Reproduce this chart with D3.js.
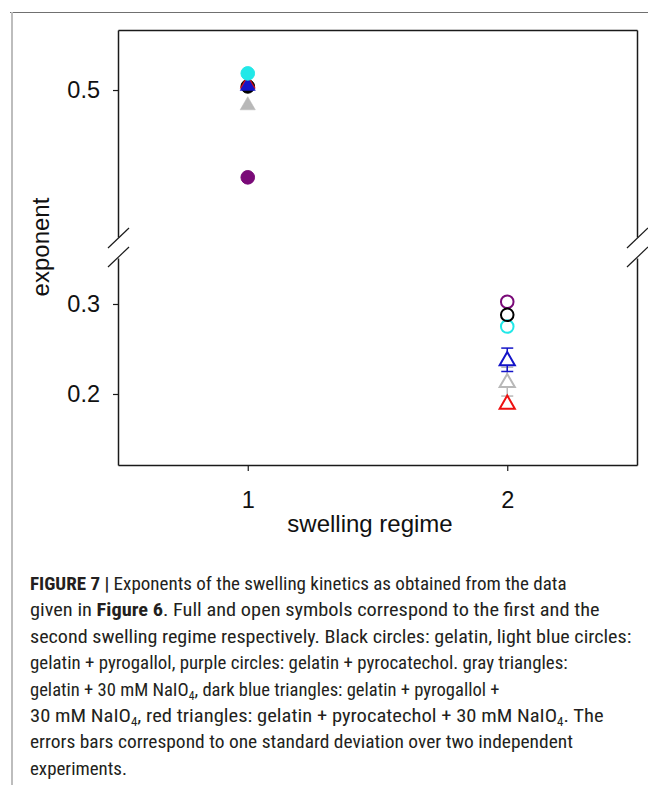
<!DOCTYPE html>
<html>
<head>
<meta charset="utf-8">
<script src="https://cdn.jsdelivr.net/npm/d3@7"></script>
<style>
  html, body { margin: 0; padding: 0; background: #fff; }
  svg { display: block; }
</style>
</head>
<body>
<svg id="chart" width="648" height="785"></svg>
<script>
// ---------------- data ----------------
const regimes = [1, 2];
const regimeTicks = ["1", "2"];
const seriesNames = [
  "gelatin",
  "gelatin + pyrogallol",
  "gelatin + pyrocatechol",
  "gelatin + 30 mM NaIO4",
  "gelatin + pyrogallol + 30 mM NaIO4",
  "gelatin + pyrocatechol + 30 mM NaIO4"
];
const seriesShapes = ["circle", "circle", "circle", "triangle", "triangle", "triangle"];
const seriesColors = ["#000000", "#22e8e8", "#7a0a78", "#b8b8b8", "#1414c8", "#ee1010"];
const regime1Values = [0.504, 0.5185, 0.403, 0.484, 0.5055, 0.508];
const regime1Errors = [0, 0, 0, 0, 0, 0];
const regime2Values = [0.288, 0.275, 0.3025, 0.2137, 0.238, 0.1897];
const regime2Errors = [0, 0, 0, 0.016, 0.013, 0];
const upperTicks = [0.5];
const lowerTicks = [0.2, 0.3];
const upperDomain = [0.3367, 0.5667];
const lowerDomain = [0.1211, 0.3511];
// draw order (later = on top)
const order1 = [0, 5, 4, 3, 2, 1];
const order2 = [3, 4, 5, 2, 1, 0];

const captionLines = [
  [["b", "FIGURE 7 | "], ["n", "Exponents of the swelling kinetics as obtained from the data"]],
  [["n", "given in "], ["b", "Figure 6"], ["n", ". Full and open symbols correspond to the first and the"]],
  [["n", "second swelling regime respectively. Black circles: gelatin, light blue circles:"]],
  [["n", "gelatin + pyrogallol, purple circles: gelatin + pyrocatechol. gray triangles:"]],
  [["n", "gelatin + 30 mM NaIO"], ["s", "4"], ["n", ", dark blue triangles: gelatin + pyrogallol +"]],
  [["n", "30 mM NaIO"], ["s", "4"], ["n", ", red triangles: gelatin + pyrocatechol + 30 mM NaIO"], ["s", "4"], ["n", ". The"]],
  [["n", "errors bars correspond to one standard deviation over two independent"]],
  [["n", "experiments."]]
];
const captionWidths = [537, 570, 602, 538, 470, 574, 543, 97];

// ---------------- layout ----------------
const svg = d3.select("#chart");
const box = { left: 118, right: 637, top: 30, bottom: 465 };
const gapTop = 237, gapBottom = 258;
const axisColor = "#1a1a1a";
const font = "'Liberation Sans', Arial, Helvetica, sans-serif";

// outer frame
svg.append("line").attr("x1", 10).attr("x2", 648).attr("y1", 12.5).attr("y2", 12.5)
  .attr("stroke", "#707070").attr("stroke-width", 1);
svg.append("line").attr("x1", 12).attr("x2", 12).attr("y1", 12).attr("y2", 785)
  .attr("stroke", "#bdbdbd").attr("stroke-width", 2);

// scales
const x = d3.scaleLinear().domain([0.5, 2.5]).range([box.left, box.right]);
const yUpper = d3.scaleLinear().domain(upperDomain).range([gapTop, box.top]);
const yLower = d3.scaleLinear().domain(lowerDomain).range([box.bottom, gapBottom]);
const yOf = (regime, v) => regime === 1 ? yUpper(v) : yLower(v);

// axes
function styleAxis(g) {
  g.selectAll("path.domain").attr("stroke", axisColor).attr("stroke-width", 1.5);
  g.selectAll(".tick line").attr("stroke", axisColor).attr("stroke-width", 1.2);
  g.selectAll(".tick text").attr("font-family", font).attr("font-size", 23.5).attr("fill", "#111");
}
const gUL = svg.append("g").attr("transform", `translate(${box.left},0)`)
  .call(d3.axisLeft(yUpper).tickValues(upperTicks).tickFormat(d3.format(".1f")).tickSize(5).tickSizeOuter(0).tickPadding(13));
styleAxis(gUL);
const gLL = svg.append("g").attr("transform", `translate(${box.left},0)`)
  .call(d3.axisLeft(yLower).tickValues(lowerTicks).tickFormat(d3.format(".1f")).tickSize(5).tickSizeOuter(0).tickPadding(13));
styleAxis(gLL);
const gUR = svg.append("g").attr("transform", `translate(${box.right},0)`)
  .call(d3.axisRight(yUpper).tickValues([]).tickSizeOuter(0));
styleAxis(gUR);
const gLR = svg.append("g").attr("transform", `translate(${box.right},0)`)
  .call(d3.axisRight(yLower).tickValues([]).tickSizeOuter(0));
styleAxis(gLR);
const gB = svg.append("g").attr("transform", `translate(0,${box.bottom})`)
  .call(d3.axisBottom(x).tickValues(regimes).tickFormat((d, i) => regimeTicks[i]).tickSize(6).tickSizeOuter(0).tickPadding(20));
styleAxis(gB);
const gT = svg.append("g").attr("transform", `translate(0,${box.top})`)
  .call(d3.axisTop(x).tickValues([]).tickSizeOuter(0));
styleAxis(gT);

// break marks
[box.left, box.right].forEach(xx => {
  [gapTop + 1, gapBottom - 1].forEach(yy => {
    svg.append("line")
      .attr("x1", xx - 10).attr("y1", yy + 10)
      .attr("x2", xx + 11).attr("y2", yy - 10)
      .attr("stroke", axisColor).attr("stroke-width", 1.2);
  });
});

// axis titles
svg.append("text").attr("x", 370).attr("y", 532).attr("text-anchor", "middle")
  .attr("font-family", font).attr("font-size", 24).attr("fill", "#111").text("swelling regime");
svg.append("text").attr("transform", "translate(49,247) rotate(-90)").attr("text-anchor", "middle")
  .attr("font-family", font).attr("font-size", 24).attr("fill", "#111").text("exponent");

// symbols
const tri = d3.symbol().type(d3.symbolTriangle).size(100);
const plot = svg.append("g");
function drawPoint(regime, i, v, e) {
  const cx = x(regime), cy = yOf(regime, v);
  const col = seriesColors[i];
  const filled = regime === 1;
  if (e > 0) {
    const yTop = yOf(regime, v + e), yBot = yOf(regime, v - e);
    plot.append("line").attr("x1", cx).attr("x2", cx).attr("y1", yTop).attr("y2", yBot)
      .attr("stroke", col).attr("stroke-width", 1.5);
    [yTop, yBot].forEach(yy => plot.append("line").attr("x1", cx - 6).attr("x2", cx + 6)
      .attr("y1", yy).attr("y2", yy).attr("stroke", col).attr("stroke-width", 1.5));
  }
  if (seriesShapes[i] === "circle") {
    plot.append("circle").attr("cx", cx).attr("cy", cy).attr("r", filled ? 6.8 : 6.3)
      .attr("fill", filled ? col : "none").attr("stroke", col).attr("stroke-width", filled ? 1 : 2);
  } else {
    plot.append("path").attr("d", tri()).attr("transform", `translate(${cx},${cy + 1})`)
      .attr("fill", filled ? col : "#fff").attr("stroke", col).attr("stroke-width", filled ? 0.5 : 2);
  }
}
order1.forEach(i => drawPoint(1, i, regime1Values[i], regime1Errors[i]));
order2.forEach(i => drawPoint(2, i, regime2Values[i], regime2Errors[i]));

// caption
const capFont = "'Liberation Sans Narrow', 'Roboto Condensed', 'Liberation Sans', Arial, sans-serif";
const capG = svg.append("g");
captionLines.forEach((parts, li) => {
  const baseY = 590 + li * 26.4;
  const t = capG.append("text").attr("x", 0).attr("y", 0)
    .attr("font-family", capFont).attr("font-size", 19).attr("fill", "#231f20");
  parts.forEach(([kind, str]) => {
    const ts = t.append("tspan").text(str);
    if (kind === "b") ts.attr("font-weight", "bold");
    if (kind === "s") ts.attr("font-size", 12).attr("dy", 4);
  });
  // restore baseline after subscripts
  let shifted = false;
  t.selectAll("tspan").each(function() {
    const s = d3.select(this);
    if (s.attr("font-size") === "12") { shifted = true; }
    else if (shifted) { s.attr("dy", -4); shifted = false; }
  });
  const w = t.node().getComputedTextLength();
  const k = captionWidths[li] / w;
  t.attr("transform", `translate(30,${baseY}) scale(${k},1)`);
});
</script>
</body>
</html>
